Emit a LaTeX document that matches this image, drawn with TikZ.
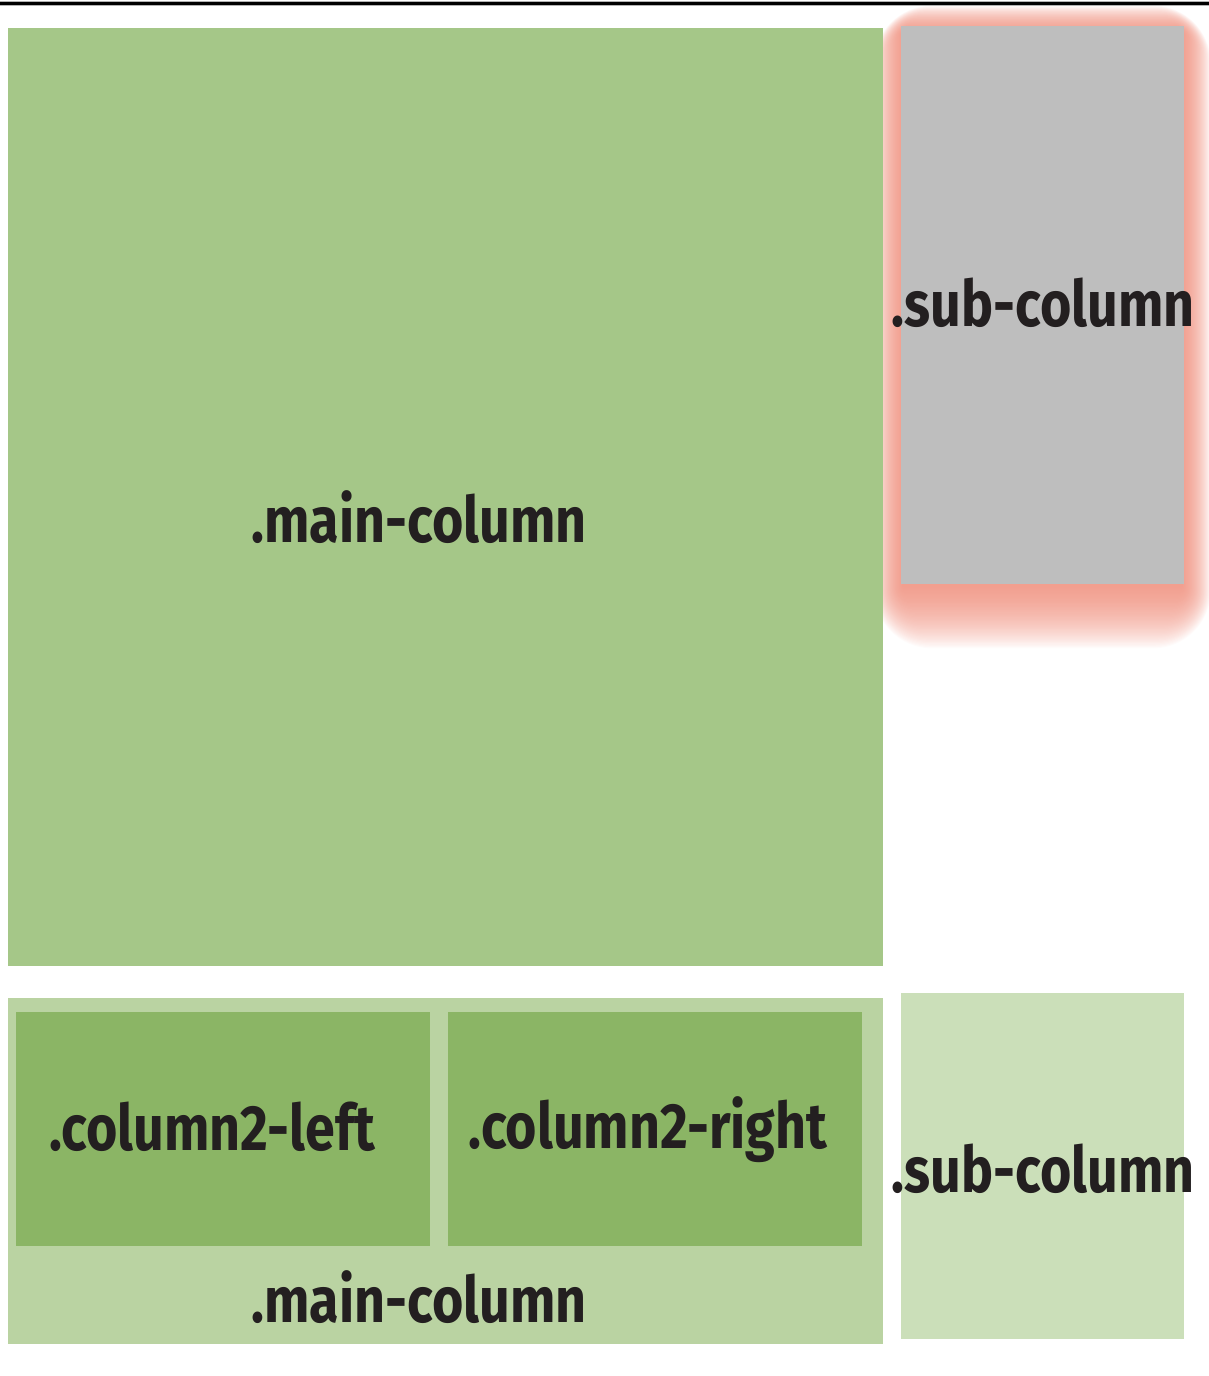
\documentclass[tikz,border=0pt]{standalone}
\usepackage{fontspec}
\newfontfamily\colfont{Fira Sans}[FakeStretch=0.84]
\usepackage{tikz}
\usetikzlibrary{positioning}

\definecolor{maincol}{HTML}{A5C788}
\definecolor{subcol}{HTML}{BEBEBE}
\definecolor{mainpale}{HTML}{BAD3A2}
\definecolor{innercol}{HTML}{8BB565}
\definecolor{subpale}{HTML}{CBDFB9}
\definecolor{glowcol}{HTML}{EE8470}
\definecolor{inkcol}{HTML}{231F20}

\begin{document}
\begin{tikzpicture}[x=1pt, y=-1pt,
  box/.style = {draw=none, inner sep=0pt, outer sep=0pt, anchor=north west},
  lbl/.style = {inner sep=0pt, anchor=base, text=inkcol, font=\colfont\bfseries\fontsize{64}{70}\selectfont}]
\useasboundingbox (0,0) rectangle (1209,1376);
% rule at the top
\draw[line width=5pt, color=black!30] (0,3) -- (1209,3);
\draw[line width=3pt] (0,3) -- (1209,3);
% glow behind the sub column
\foreach \i in {1,...,48}
  \fill[glowcol, opacity=0.03, rounded corners=1.2*\i pt]
    (903-0.6*\i,32-0.55*\i) rectangle (1182+0.6*\i,586+1.3*\i);
% first row
\node[box, fill=maincol, minimum width=875pt, minimum height=938pt] (main) at (8,28) {};
\node[box, fill=subcol, minimum width=283pt, minimum height=558pt] (sub) at (901,26) {};
% second row
\node[box, fill=mainpale, minimum width=875pt, minimum height=346pt] (main2) at (8,998) {};
\node[box, fill=innercol, minimum width=414pt, minimum height=234pt] (left) at (16,1012) {};
\node[box, fill=innercol, minimum width=414pt, minimum height=234pt] (right) at (448,1012) {};
\node[box, fill=subpale, minimum width=283pt, minimum height=346pt] (sub2) at (901,993) {};
% labels
\node[lbl] (mainl) at (419,542) {.main-column};
\node[lbl] (subl) at (1043,326) {.sub-column};
\node[lbl] (leftl) at (212,1150) {.column2-left};
\node[lbl] (rightl) at (648,1148) {.column2-right};
\node[lbl] (main2l) at (419,1322) {.main-column};
\node[lbl] (sub2l) at (1043,1192) {.sub-column};
\end{tikzpicture}
\end{document}
